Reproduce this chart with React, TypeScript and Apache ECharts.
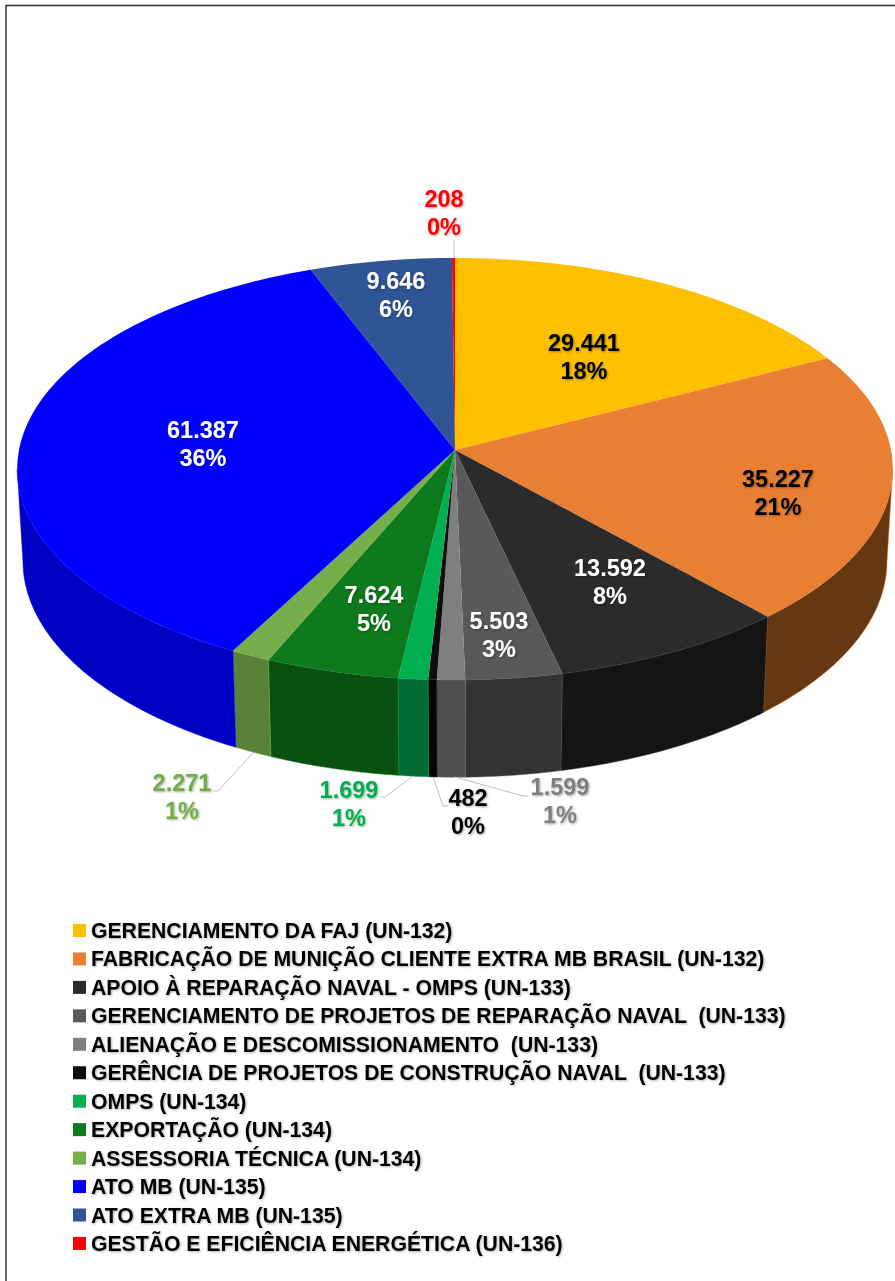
import React, { useEffect, useRef } from "react";
import * as echarts from "echarts";

const categories = [
  "GERENCIAMENTO DA FAJ (UN-132)",
  "FABRICAÇÃO DE MUNIÇÃO CLIENTE EXTRA MB BRASIL (UN-132)",
  "APOIO À REPARAÇÃO NAVAL - OMPS (UN-133)",
  "GERENCIAMENTO DE PROJETOS DE REPARAÇÃO NAVAL  (UN-133)",
  "ALIENAÇÃO E DESCOMISSIONAMENTO  (UN-133)",
  "GERÊNCIA DE PROJETOS DE CONSTRUÇÃO NAVAL  (UN-133)",
  "OMPS (UN-134)",
  "EXPORTAÇÃO (UN-134)",
  "ASSESSORIA TÉCNICA (UN-134)",
  "ATO MB (UN-135)",
  "ATO EXTRA MB (UN-135)",
  "GESTÃO E EFICIÊNCIA ENERGÉTICA (UN-136)",
];
const legendOrder = [0, 1, 2, 3, 4, 5, 6, 7, 8, 9, 10, 11];
// Slices run clockwise from 12 o'clock in this order.
const sliceOrder = [0, 1, 2, 3, 4, 5, 6, 7, 8, 9, 10, 11];
const values = [29441, 35227, 13592, 5503, 1599, 482, 1699, 7624, 2271, 61387, 9646, 208];
const valueLabels = ["29.441", "35.227", "13.592", "5.503", "1.599", "482", "1.699", "7.624", "2.271", "61.387", "9.646", "208"];
const percentLabels = ["18%", "21%", "8%", "3%", "1%", "0%", "1%", "5%", "1%", "36%", "6%", "0%"];

const topColors = ["#FFC000", "#E97F33", "#2B2B2B", "#595959", "#7F7F7F", "#0D0D0D", "#00B050", "#0D7A1D", "#75AE4A", "#0000FF", "#2F5597", "#FF0000"];
const wallColors = ["#997300", "#653812", "#141414", "#333333", "#4D4D4D", "#050505", "#006A35", "#07500F", "#5A8138", "#0000C2", "#1C3360", "#990000"];
const labelColors = ["#000000", "#000000", "#FFFFFF", "#FFFFFF", "#7F7F7F", "#000000", "#00B050", "#FFFFFF", "#70AD47", "#FFFFFF", "#FFFFFF", "#FF0000"];
const labelCenters: number[][] = [
  [584, 357], [778, 493], [610, 582], [499, 635], [560, 801], [468, 812],
  [349, 804], [374, 609], [182, 797], [203, 444], [396, 295], [444, 213],
];
const leaders: (number[][] | null)[] = [
  null, null, null, null,
  [[455, 777], [523, 796], [528, 796]],
  [[433, 777], [443, 806], [448, 806]],
  [[413, 776], [385, 797], [380, 797]],
  null,
  [[253, 753], [218, 791], [213, 791]],
  null, null,
  [[454, 258], [454, 240]],
];

const FONT = "'Liberation Sans', Arial, sans-serif";
const total = values.reduce((a, b) => a + b, 0);
const TOP = { cx: 455, cy: 450, rx: 436, ry: 209.3 };
const LOW = { cx: 455, cy: 541.5, rx: 430.3, ry: 214.5 };
const K = 0.09;
const WALL_FROM = 95.2;
const WALL_TO = 264.8;

function project(deg: number, d: typeof TOP): number[] {
  const t = (deg * Math.PI) / 180;
  const u = Math.sin(t);
  const v = -Math.cos(t);
  const s = 1 / (1 - K * v);
  return [d.cx + d.rx * u * s, d.cy + d.ry * v * s];
}
function rim(a: number, b: number, d: typeof TOP): number[][] {
  const n = Math.max(1, Math.ceil(Math.abs(b - a) / 1.5));
  const out: number[][] = [];
  for (let i = 0; i <= n; i++) out.push(project(a + ((b - a) * i) / n, d));
  return out;
}

function makeRenderItem(idx: number) {
  return (_params: any, api: any) => {
    const value = api.value(0);
    const pos = sliceOrder.indexOf(idx);
    let before = 0;
    for (let i = 0; i < pos; i++) before += values[sliceOrder[i]];
    const a0 = (before / total) * 360;
    const a1 = ((before + value) / total) * 360;
    const children: any[] = [];
    const w0 = Math.max(a0, WALL_FROM);
    const w1 = Math.min(a1, WALL_TO);
    if (w1 > w0) {
      children.push({
        type: "polygon",
        z2: 1,
        shape: { points: [...rim(w0, w1, TOP), ...rim(w1, w0, LOW)] },
        style: { fill: wallColors[idx], stroke: topColors[idx], lineWidth: 0.5 },
      });
    }
    children.push({
      type: "polygon",
      z2: 2,
      shape: { points: [[TOP.cx, TOP.cy], ...rim(a0, a1, TOP)] },
      style: { fill: topColors[idx] },
    });
    const lead = leaders[idx];
    if (lead) {
      children.push({
        type: "polyline",
        z2: 3,
        shape: { points: lead },
        style: { fill: "none", stroke: "#BFBFBF", lineWidth: 1 },
      });
    }
    children.push({
      type: "text",
      z2: 10,
      style: {
        text: valueLabels[idx] + "\n" + percentLabels[idx],
        x: labelCenters[idx][0],
        y: labelCenters[idx][1],
        align: "center",
        verticalAlign: "middle",
        fontFamily: FONT,
        fontWeight: "bold",
        fontSize: 23.5,
        lineHeight: 27.5,
        fill: labelColors[idx],
        textShadowColor: "rgba(0,0,0,0.35)",
        textShadowBlur: 2,
        textShadowOffsetX: 1,
        textShadowOffsetY: 1,
      },
    });
    return { type: "group", children };
  };
}

export default function App() {
  const ref = useRef<HTMLDivElement>(null);
  useEffect(() => {
    document.body.style.margin = "0";
    const chart = echarts.init(ref.current!, undefined, { renderer: "svg" });
    chart.setOption({
      animation: false,
      backgroundColor: "#FFFFFF",
      legend: {
        orient: "vertical",
        left: 68,
        top: 915,
        icon: "rect",
        itemWidth: 13,
        itemHeight: 13,
        itemGap: 7.45,
        selectedMode: false,
        data: legendOrder.map((i) => categories[i]),
        textStyle: {
          fontFamily: FONT,
          fontWeight: "bold",
          fontSize: 21.2,
          lineHeight: 21,
          color: "#000000",
          textShadowColor: "rgba(0,0,0,0.3)",
          textShadowBlur: 2,
          textShadowOffsetX: 1,
          textShadowOffsetY: 1,
        },
      },
      graphic: [
        { type: "line", shape: { x1: 5.5, y1: 5.5, x2: 895, y2: 5.5 }, style: { stroke: "#333333", lineWidth: 1.5 } },
        { type: "line", shape: { x1: 6, y1: 5, x2: 6, y2: 1281 }, style: { stroke: "#333333", lineWidth: 1.5 } },
      ],
      series: categories.map((name, i) => ({
        type: "custom",
        name,
        coordinateSystem: "none",
        silent: true,
        itemStyle: { color: topColors[i] },
        data: [[values[i]]],
        encode: { value: 0 },
        renderItem: makeRenderItem(i),
      })),
    });
    return () => chart.dispose();
  }, []);
  return <div ref={ref} style={{ width: 895, height: 1281 }} />;
}
